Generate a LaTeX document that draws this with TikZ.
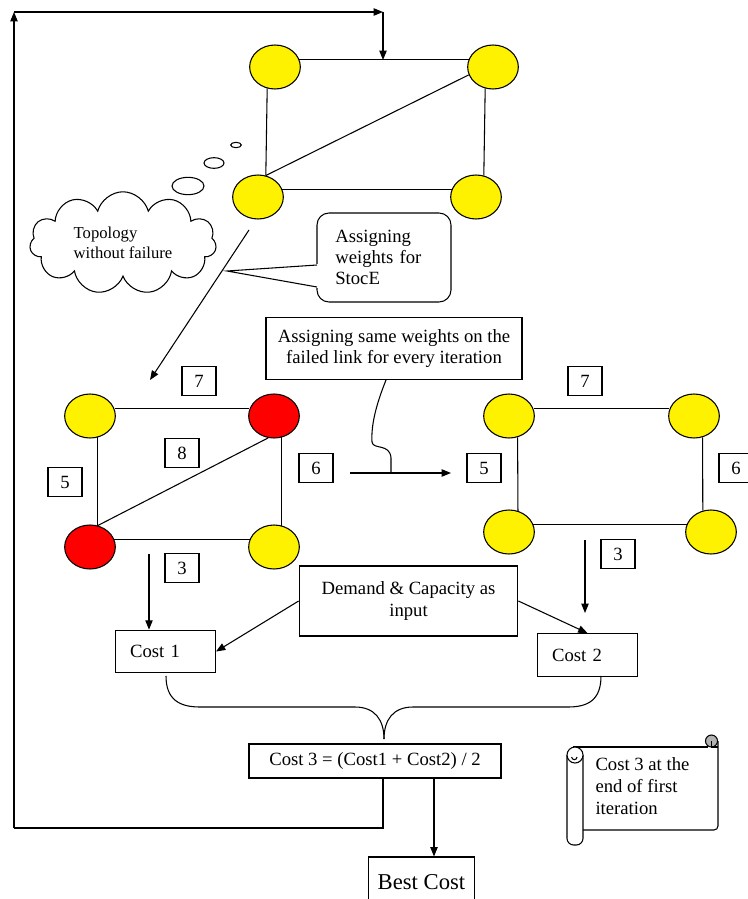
\documentclass[tikz,border=0pt]{standalone}
\usepackage{fontspec}
\setmainfont{Liberation Serif}
\usetikzlibrary{shapes.geometric,shapes.symbols,arrows.meta}

\begin{document}
\begin{tikzpicture}[x=0.75pt,y=-0.75pt,line width=0.8pt,
  >={Triangle[length=7pt,width=5.5pt]},
  site/.style={ellipse,draw,fill=yellow,inner sep=0pt,minimum width=38pt,minimum height=33pt},
  failed/.style={site,fill=red},
  wbox/.style={draw,fill=white,inner sep=0pt,minimum width=25.5pt,minimum height=21.75pt},
  txtbox/.style={draw,fill=white,align=center,inner sep=2pt},
  costbox/.style={draw,fill=white,align=left,text width=53pt,inner xsep=11pt,minimum height=32pt},
  bubble/.style={ellipse,draw,inner sep=0pt}]

  \fontsize{14}{16}\selectfont
  \useasboundingbox (0,0) rectangle (748,899);

  % topology without failure
  \node[site] (t1) at (275,67) {};
  \node[site] (t2) at (493,67) {};
  \node[site] (t3) at (258,197) {};
  \node[site] (t4) at (476,197) {};
  \draw (t1.18) -- (t2.162);
  \draw (t1.250) -- (t3.70);
  \draw (t2.250) -- (t4.70);
  \draw (t3.18) -- (t4.162);
  \draw (t3.70) -- (t2.198);

  % thought
  \node[bubble,minimum width=8pt,minimum height=4pt] (bub1) at (236,145) {};
  \node[bubble,minimum width=15pt,minimum height=8pt] (bub2) at (214,163) {};
  \node[bubble,minimum width=24pt,minimum height=13pt] (bub3) at (188,186) {};
  \node[cloud,draw,cloud puffs=11,aspect=2.2,minimum width=140pt,minimum height=70pt,
        align=left,font=\fontsize{12.5}{15}\selectfont] (topo) at (123,243) {Topology\\without failure};

  % callout
  \node[draw,rounded corners=9pt,minimum width=100.5pt,minimum height=66.75pt,
        text width=73pt,inner xsep=13.5pt,align=left] (stoce) at (384,257.5) {Assigning\\weights for\\StocE};
  \coordinate (stocetip) at (227,271);
  \fill[white] (318.5,264) -- (stocetip) -- (318.5,288) -- cycle;
  \draw (317,265) -- (stocetip) -- (317,287);

  \coordinate (fromtop) at (249,230);
  \coordinate (toleft) at (150,380);
  \draw[->] (fromtop) -- (toleft);

  % failure 1
  \node[site] (a1) at (90,416) {};
  \node[failed] (a2) at (274,416) {};
  \node[failed] (a3) at (90,547) {};
  \node[site] (a4) at (274,547) {};
  \draw (a1.16) -- (a2.164);
  \draw (a1.290) -- (a3.70);
  \draw (a2.290) -- (a4.70);
  \draw (a3.18) -- (a4.162);
  \draw (a3.70) -- (a2.255);
  \node[wbox] (wa7) at (199,381) {7};
  \node[wbox] (wa8) at (182,453) {8};
  \node[wbox] (wa5) at (65,482) {5};
  \node[wbox] (wa6) at (316,468) {6};
  \node[wbox] (wa3) at (182,568) {3};

  % failure 2
  \node[site] (b1) at (509,416) {};
  \node[site] (b2) at (694,416) {};
  \node[site] (b3) at (509,532) {};
  \node[site] (b4) at (711,532) {};
  \draw (b1.16) -- (b2.164);
  \draw (b1.292) -- (b3.67);
  \draw (b2.292) -- (b4.111);
  \draw (b3.18) -- (b4.162);
  \node[wbox] (wb7) at (585,381) {7};
  \node[wbox] (wb5) at (484,468) {5};
  \node[wbox] (wb6) at (736,468) {6};
  \node[wbox] (wb3) at (618,554) {3};

  % same weights
  \node[txtbox,minimum width=192pt,minimum height=47pt] (same) at (394,348.5)
    {Assigning same weights on the\\failed link for every iteration};
  \coordinate (join) at (391,473);
  \coordinate (hstart) at (350,473);
  \coordinate (hend) at (451,473);
  \draw (386,380) .. controls (376,405) and (371,425) .. (372,442)
        .. controls (373,450) and (390,443) .. (391,458) -- (join);
  \draw[->] (hstart) -- (hend);

  % costs
  \node[txtbox,minimum width=164pt,minimum height=52.5pt] (demand) at (408.5,601) {Demand \& Capacity as\\input};
  \node[costbox] (cost1) at (165.5,651.5) {Cost 1};
  \node[costbox] (cost2) at (587.5,655) {Cost 2};
  \coordinate (c1in) at (149,554);
  \coordinate (c2in) at (585,540);
  \coordinate (c2end) at (585,613);
  \draw[->] (c1in) -- (c1in |- cost1.north);
  \draw[->] (c2in) -- (c2end);
  \draw[->] (demand.west) -- (cost1.east);
  \draw[->] (demand.east) -- (cost2.north);

  \node[txtbox,minimum width=189pt,minimum height=25.5pt] (cost3) at (375,761) {Cost 3 = (Cost1 + Cost2) / 2};
  \coordinate (brtip) at (384,739);
  \draw (166,676) .. controls (166,700) and (180,707) .. (200,707) -- (355,707)
        .. controls (375,707) and (384,720) .. (brtip);
  \draw (601,676) .. controls (601,700) and (588,707) .. (568,707) -- (413,707)
        .. controls (393,707) and (384,720) .. (brtip);

  % best cost
  \node[draw,fill=white,minimum width=80pt,minimum height=37.5pt,
        font=\fontsize{17}{20}\selectfont] (best) at (421.5,882) {Best Cost};
  \coordinate (bestin) at (434,0);
  \draw[->] (cost3.south -| bestin) -- (best.north -| bestin);

  % loop back
  \coordinate (lp1) at (383,828);
  \coordinate (lp2) at (14,828);
  \coordinate (lp3) at (14,12);
  \coordinate (lp4) at (383,12);
  \coordinate (lp5) at (383,60);
  \draw (cost3.south -| lp1) -- (lp1) -- (lp2);
  \draw[->] (lp2) -- (lp3);
  \draw[->] (lp3) -- (lp4);
  \draw[->] (lp4) -- (lp5);

  % scroll
  \draw[rounded corners=3pt] (718,741) -- (718,830) -- (583,830);
  \draw (573,747) -- (708,747);
  \draw[rounded corners=5pt] (567,755) -- (567,845) -- (583,845) -- (583,755);
  \draw[fill=white] (575,755) circle (6pt);
  \draw (577,757) arc (0:-180:2pt);
  \draw[fill=gray!60] (711.5,741) circle (4.5pt);
  \draw (711.5,741) -- (711.5,747) -- (718,747);
  \node[anchor=west,align=left,inner sep=0pt,font=\fontsize{14}{16.5}\selectfont] (note) at (595,786)
    {Cost 3 at the\\end of first\\iteration};
\end{tikzpicture}
\end{document}
